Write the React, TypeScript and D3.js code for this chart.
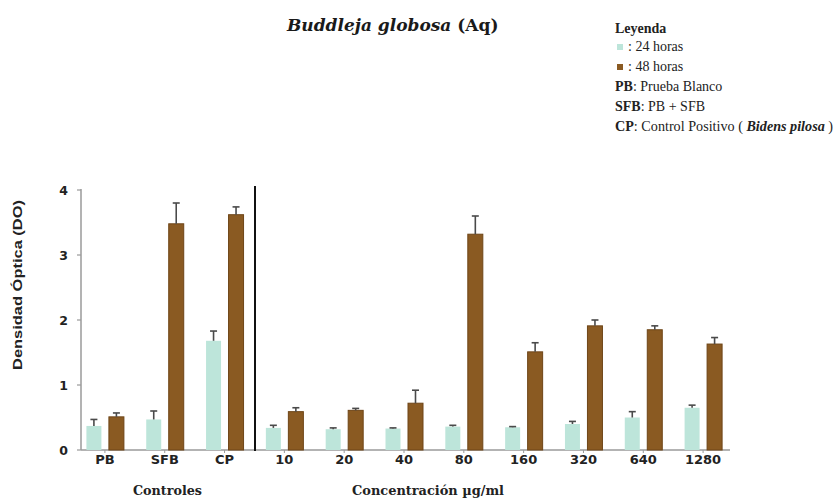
import React from "react";
import * as d3 from "d3";

const categories = ["PB", "SFB", "CP", "10", "20", "40", "80", "160", "320", "640", "1280"];
const values24 = [0.37, 0.47, 1.68, 0.34, 0.32, 0.33, 0.36, 0.35, 0.40, 0.50, 0.65];
const err24 = [0.10, 0.13, 0.15, 0.04, 0.02, 0.01, 0.02, 0.01, 0.04, 0.09, 0.04];
const values48 = [0.51, 3.48, 3.62, 0.59, 0.61, 0.72, 3.32, 1.51, 1.91, 1.85, 1.63];
const err48 = [0.06, 0.32, 0.12, 0.06, 0.03, 0.20, 0.28, 0.14, 0.09, 0.06, 0.10];
const yTicks = [0, 1, 2, 3, 4];

const LIGHT = "#bde5da";
const BROWN = "#8a5a22";
const BROWN_EDGE = "#6e4517";

export default function App() {
  const W = 835, H = 499;
  const x = d3.scaleBand<string>().domain(categories).range([75, 733]).paddingInner(0).paddingOuter(0);
  const y = d3.scaleLinear().domain([0, 4]).range([450, 190]);
  const bw = 15;
  const step = x.step();
  const cx = (c: string) => (x(c) as number) + step / 2;

  const errBar = (xc: number, v: number, e: number, key: string) => (
    <g key={key} stroke="#4a4a4a">
      <line x1={xc} x2={xc} y1={y(v)} y2={y(v + e)} strokeWidth={1.6} />
      <line x1={xc - 3.5} x2={xc + 3.5} y1={y(v + e)} y2={y(v + e)} strokeWidth={1.6} />
    </g>
  );

  return (
    <svg width={W} height={H} style={{ position: "absolute", left: 0, top: 0, background: "#fff" }}>
      {/* Title */}
      <text x={287} y={31} fontFamily="DejaVu Serif" fontWeight="bold" fontSize={17} fill="#1a1a1a">
        <tspan fontStyle="italic">Buddleja globosa</tspan> (Aq)
      </text>

      {/* Legend */}
      <g fontFamily="Liberation Serif" fontSize={14} fill="#222">
        <text x={615} y={33} fontWeight="bold">Leyenda</text>
        <rect x={617} y={44} width={6} height={6} fill={LIGHT} />
        <text x={628} y={51}>: 24 horas</text>
        <rect x={617} y={64} width={6} height={6} fill={BROWN} />
        <text x={628} y={71}>: 48 horas</text>
        <text x={615} y={91}><tspan fontWeight="bold">PB</tspan>: Prueba Blanco</text>
        <text x={615} y={111}><tspan fontWeight="bold">SFB</tspan>: PB + SFB</text>
        <text x={615} y={131} textLength={218} lengthAdjust="spacingAndGlyphs">
          <tspan fontWeight="bold">CP</tspan>: Control Positivo ( <tspan fontWeight="bold" fontStyle="italic">Bidens pilosa</tspan> )
        </text>
      </g>

      {/* Y axis */}
      <line x1={81} x2={81} y1={y(4) - 1} y2={y(0)} stroke="#9a9a9a" strokeWidth={1.5} />
      {yTicks.map((t) => (
        <g key={t}>
          <line x1={77} x2={81} y1={y(t)} y2={y(t)} stroke="#9a9a9a" strokeWidth={1.2} />
          <text x={68} y={y(t) + 4.5} textAnchor="end" fontFamily="DejaVu Sans" fontWeight="bold" fontSize={12.5} fill="#222">{t}</text>
        </g>
      ))}
      <text transform={`translate(22,${285}) rotate(-90)`} textAnchor="middle" fontFamily="Liberation Sans" fontWeight="bold" fontSize={12.5} fill="#222" textLength={170} lengthAdjust="spacingAndGlyphs">
        Densidad Óptica (DO)
      </text>

      {/* X axis */}
      <line x1={81} x2={730} y1={y(0)} y2={y(0)} stroke="#9a9a9a" strokeWidth={1.5} />
      {categories.map((c) => (
        <g key={c}>
          <line x1={cx(c)} x2={cx(c)} y1={y(0)} y2={y(0) + 3} stroke="#9a9a9a" strokeWidth={1} />
          <text x={cx(c)} y={464} textAnchor="middle" fontFamily="DejaVu Sans" fontWeight="bold" fontSize={13} fill="#222">{c}</text>
        </g>
      ))}

      {/* Bars */}
      {categories.map((c, i) => {
        const xc = cx(c);
        const x1 = xc - 18.5;
        const x2 = xc + 4;
        return (
          <g key={"b" + c}>
            <rect x={x1} y={y(values24[i])} width={bw} height={y(0) - y(values24[i])} fill={LIGHT} />
            <rect x={x2} y={y(values48[i])} width={bw} height={y(0) - y(values48[i])} fill={BROWN} stroke={BROWN_EDGE} strokeWidth={1} />
            {errBar(x1 + bw / 2, values24[i], err24[i], "e24")}
            {errBar(x2 + bw / 2, values48[i], err48[i], "e48")}
          </g>
        );
      })}

      {/* Divider */}
      <line x1={255} x2={255} y1={186} y2={451} stroke="#111" strokeWidth={2} />

      {/* Group labels */}
      <g fontFamily="DejaVu Serif" fontWeight="bold" fontSize={13} fill="#222">
        <text x={133} y={495} textLength={69} lengthAdjust="spacingAndGlyphs">Controles</text>
        <text x={352} y={495} textLength={152} lengthAdjust="spacingAndGlyphs">Concentración µg/ml</text>
      </g>
    </svg>
  );
}
